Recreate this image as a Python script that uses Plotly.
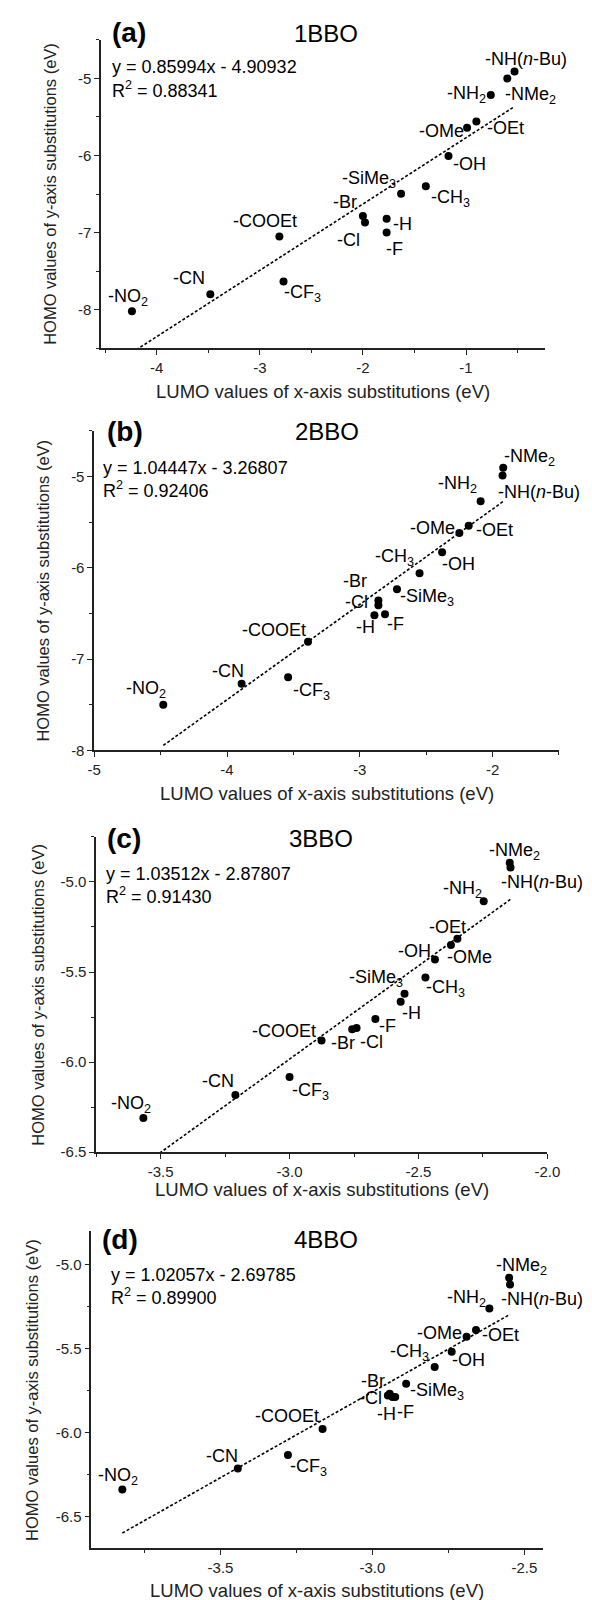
import numpy as np
import plotly.graph_objects as go

W, H = 592, 1600
FONT = "Liberation Sans, Arial, sans-serif"

# ---------------- data ----------------
substituents = ["-NO<sub>2</sub>", "-CN", "-CF<sub>3</sub>", "-COOEt", "-Br", "-Cl", "-H", "-F",
                "-SiMe<sub>3</sub>", "-CH<sub>3</sub>", "-OH", "-OMe", "-OEt", "-NH<sub>2</sub>",
                "-NMe<sub>2</sub>", "-NH(<i>n</i>-Bu)"]

lumo_1bbo = [-4.24, -3.48, -2.77, -2.81, -2.00, -1.98, -1.77, -1.77, -1.63, -1.39, -1.17, -0.99, -0.90, -0.76, -0.60, -0.53]
homo_1bbo = [-8.02, -7.80, -7.635, -7.05, -6.785, -6.87, -6.82, -7.00, -6.495, -6.40, -6.005, -5.64, -5.56, -5.215, -5.00, -4.91]

lumo_2bbo = [-4.48, -3.89, -3.54, -3.39, -2.86, -2.86, -2.89, -2.81, -2.72, -2.55, -2.38, -2.25, -2.18, -2.09, -1.92, -1.925]
homo_2bbo = [-7.50, -7.27, -7.20, -6.81, -6.36, -6.41, -6.52, -6.51, -6.235, -6.06, -5.83, -5.62, -5.54, -5.27, -4.905, -4.99]

lumo_3bbo = [-3.567, -3.21, -3.00, -2.876, -2.757, -2.74, -2.569, -2.667, -2.554, -2.473, -2.436, -2.374, -2.349, -2.247, -2.146, -2.143]
homo_3bbo = [-6.31, -6.183, -6.083, -5.88, -5.817, -5.81, -5.665, -5.76, -5.62, -5.53, -5.43, -5.35, -5.315, -5.107, -4.894, -4.92]

lumo_4bbo = [-3.823, -3.443, -3.278, -3.164, -2.943, -2.949, -2.934, -2.925, -2.889, -2.795, -2.739, -2.69, -2.659, -2.615, -2.55, -2.547]
homo_4bbo = [-6.34, -6.215, -6.135, -5.98, -5.77, -5.78, -5.79, -5.79, -5.71, -5.61, -5.52, -5.43, -5.39, -5.263, -5.08, -5.12]

panel_names = ["1BBO", "2BBO", "3BBO", "4BBO"]
panel_letters = ["(a)", "(b)", "(c)", "(d)"]
fit_slopes = [0.85994, 1.04447, 1.03512, 1.02057]
fit_intercepts = [-4.90932, -3.26807, -2.87807, -2.69785]
fit_r2 = ["0.88341", "0.92406", "0.91430", "0.89900"]
fit_eq_text = ["y = 0.85994x - 4.90932", "y = 1.04447x - 3.26807",
               "y = 1.03512x - 2.87807", "y = 1.02057x - 2.69785"]

x_tickvals = [[-4, -3, -2, -1], [-5, -4, -3, -2], [-3.5, -3.0, -2.5, -2.0], [-3.5, -3.0, -2.5]]
x_ticktext = [["-4", "-3", "-2", "-1"], ["-5", "-4", "-3", "-2"],
              ["-3.5", "-3.0", "-2.5", "-2.0"], ["-3.5", "-3.0", "-2.5"]]
y_tickvals = [[-8, -7, -6, -5], [-8, -7, -6, -5], [-6.5, -6.0, -5.5, -5.0], [-6.5, -6.0, -5.5, -5.0]]
y_ticktext = [["-8", "-7", "-6", "-5"], ["-8", "-7", "-6", "-5"],
              ["-6.5", "-6.0", "-5.5", "-5.0"], ["-6.5", "-6.0", "-5.5", "-5.0"]]

x_title = "LUMO values of x-axis substitutions (eV)"
y_title = "HOMO values of y-axis substitutions (eV)"

lumo_all = [lumo_1bbo, lumo_2bbo, lumo_3bbo, lumo_4bbo]
homo_all = [homo_1bbo, homo_2bbo, homo_3bbo, homo_4bbo]

# ---------------- layout / style ----------------
x_ranges = [(-4.54, -0.23), (-5.0, -1.5), (-3.75, -2.0), (-3.925, -2.44)]
y_ranges = [(-8.5, -4.5), (-8.0, -4.5), (-6.5, -4.75), (-6.69, -4.8)]
minor_dx = [0.5, 0.5, 0.25, 0.25]
minor_dy = [0.5, 0.5, 0.25, 0.25]

x_dom_px = [(89, 549), (82, 563), (84, 551), (79, 546)]
y_dom_px = [(32, 342), (425, 746), (833, 1150), (1229, 1548)]
xtitle_y_px = [385, 789, 1187, 1590]
ytitle_x_px = [36, 29, 23, 17]
letter_pos = [(118, 25), (114, 426), (113, 835), (109, 1238)]
name_pos = [(322, 26), (323, 426), (317, 835), (322, 1238)]
eq_pos = [(98, 59, 82), (89, 462, 484), (92, 870, 892), (97, 1273, 1295)]

# label offsets (dx, dy) in px, dy positive downwards; same order as substituents
label_offsets = [
    [(-4, -14), (-21, -16), (19, 12), (-14, -15), (-18, -14), (-16, 17), (16, 5), (8, 16),
     (-32, -14), (25, 12), (21, 8), (-26, 3), (29, 6), (-24, 0), (23, 17), (11, -12)],
    [(-17, -15), (-14, -13), (23, 14), (-34, -12), (-23, -20), (-22, -3), (-9, 12), (10, 10),
     (30, 8), (-25, -16), (16, 12), (-27, -5), (26, 4), (-23, -17), (26, -10), (36, 16)],
    [(-12, -14), (-17, -14), (21, 14), (-38, -10), (-9, 14), (15, 14), (11, 11), (12, 7),
     (-29, -15), (20, 11), (-20, -8), (19, 12), (-10, -12), (-21, -12), (5, -11), (31, 15)],
    [(-4, -13), (-16, -12), (21, 12), (-36, -13), (-17, -13), (-17, 3), (-6, 17), (10, 15),
     (31, 8), (-25, -14), (17, 8), (-27, -4), (24, 5), (-23, -10), (12, -11), (32, 14)],
]

LABEL_SIZE = 18
TICK_SIZE = 15
AX_COLOR = "#222222"


def px2x(px):
    return px / W


def py2y(py):
    return 1 - py / H


fig = go.Figure()
annotations = []
layout_axes = {}

for i in range(4):
    n = "" if i == 0 else str(i + 1)
    xa, ya = "x" + n, "y" + n
    lx = np.array(lumo_all[i])
    hy = np.array(homo_all[i])

    # fit line over data extent (from the printed regression equation)
    xf = np.array([lx.min(), lx.max()])
    yf = fit_slopes[i] * xf + fit_intercepts[i]
    fig.add_trace(go.Scatter(x=xf, y=yf, mode="lines", xaxis=xa, yaxis=ya,
                             line=dict(color="black", width=1.6, dash="3px,2px"),
                             showlegend=False, hoverinfo="skip"))
    fig.add_trace(go.Scatter(x=lx, y=hy, mode="markers", xaxis=xa, yaxis=ya,
                             marker=dict(color="black", size=8),
                             showlegend=False))

    for j, lab in enumerate(substituents):
        dx, dy = label_offsets[i][j]
        annotations.append(dict(x=lx[j], y=hy[j], xref=xa, yref=ya, text=lab,
                                showarrow=False, xshift=dx, yshift=-dy,
                                xanchor="center", yanchor="middle",
                                font=dict(family=FONT, size=LABEL_SIZE, color="black")))

    x0, x1 = x_dom_px[i]
    y0, y1 = y_dom_px[i]
    common = dict(showline=True, linecolor=AX_COLOR, linewidth=1.5, mirror=False,
                  ticks="outside", ticklen=5, tickwidth=1.3, tickcolor=AX_COLOR,
                  showgrid=False, zeroline=False,
                  tickfont=dict(family=FONT, size=TICK_SIZE, color=AX_COLOR))
    layout_axes["xaxis" + n] = dict(common, domain=[px2x(x0), px2x(x1)], range=list(x_ranges[i]),
                                    anchor=ya, tickmode="array", tickvals=x_tickvals[i],
                                    ticktext=x_ticktext[i],
                                    minor=dict(ticks="outside", ticklen=3, tickwidth=1.2,
                                               tickcolor=AX_COLOR, tick0=0, dtick=minor_dx[i],
                                               showgrid=False))
    layout_axes["yaxis" + n] = dict(common, domain=[py2y(y1), py2y(y0)], range=list(y_ranges[i]),
                                    anchor=xa, tickmode="array", tickvals=y_tickvals[i],
                                    ticktext=y_ticktext[i],
                                    minor=dict(ticks="outside", ticklen=3, tickwidth=1.2,
                                               tickcolor=AX_COLOR, tick0=0, dtick=minor_dy[i],
                                               showgrid=False))

    # axis titles
    annotations.append(dict(x=0.5, xref=xa + " domain", y=py2y(xtitle_y_px[i]), yref="paper",
                            text=x_title, showarrow=False, xanchor="center", yanchor="middle",
                            font=dict(family=FONT, size=18.5, color=AX_COLOR)))
    annotations.append(dict(x=px2x(ytitle_x_px[i]), xref="paper", y=0.5, yref=ya + " domain",
                            text=y_title, showarrow=False, textangle=-90,
                            xanchor="center", yanchor="middle",
                            font=dict(family=FONT, size=16.5, color=AX_COLOR)))
    # panel letter and name
    annotations.append(dict(x=px2x(letter_pos[i][0]), y=py2y(letter_pos[i][1]), xref="paper", yref="paper",
                            text="<b>" + panel_letters[i] + "</b>", showarrow=False,
                            xanchor="center", yanchor="middle",
                            font=dict(family=FONT, size=28, color="black")))
    annotations.append(dict(x=px2x(name_pos[i][0]), y=py2y(name_pos[i][1]), xref="paper", yref="paper",
                            text=panel_names[i], showarrow=False,
                            xanchor="center", yanchor="middle",
                            font=dict(family=FONT, size=24, color="black")))
    # equation
    ex, ey, ry = eq_pos[i]
    annotations.append(dict(x=px2x(ex), y=py2y(ey), xref="paper", yref="paper",
                            text=fit_eq_text[i], showarrow=False,
                            xanchor="left", yanchor="middle",
                            font=dict(family=FONT, size=18, color="black")))
    annotations.append(dict(x=px2x(ex), y=py2y(ry), xref="paper", yref="paper",
                            text="R<sup>2</sup> = " + fit_r2[i], showarrow=False,
                            xanchor="left", yanchor="middle",
                            font=dict(family=FONT, size=18, color="black")))

fig.update_layout(width=W, height=H, margin=dict(l=0, r=0, t=0, b=0),
                  paper_bgcolor="white", plot_bgcolor="white",
                  font=dict(family=FONT), annotations=annotations, **layout_axes)

fig.write_html("out.html")
